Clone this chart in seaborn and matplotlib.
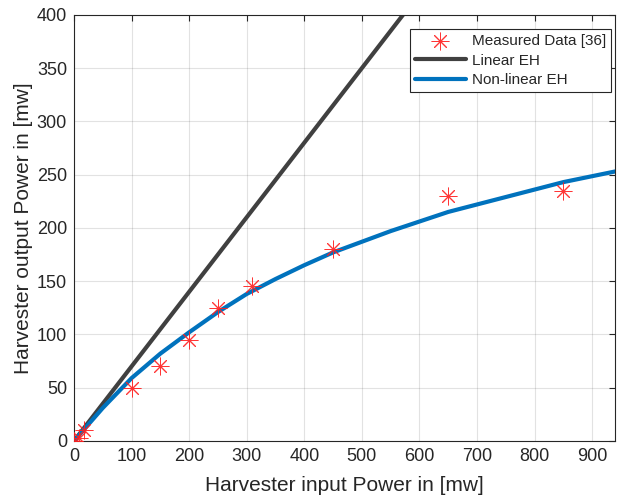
import matplotlib
matplotlib.use("Agg")
import matplotlib.pyplot as plt
import seaborn as sns
import pandas as pd

# Measured data [36]
meas_x = [0, 8, 18, 100, 150, 200, 250, 310, 450, 650, 850]
meas_y = [0, 3, 10, 50, 70, 95, 125, 145, 180, 230, 235]

# Linear EH
lin_x = [0, 940]
lin_y = [0, 658]

# Non-linear EH
nl_x = [0, 50, 100, 150, 200, 250, 300, 350, 400, 450, 550, 650, 850, 940]
nl_y = [0, 31, 59, 82, 102, 121, 138, 152, 165, 177, 197, 215, 243, 253]

x_ticks = [0, 100, 200, 300, 400, 500, 600, 700, 800, 900]
y_ticks = [0, 50, 100, 150, 200, 250, 300, 350, 400]

sns.set_style("white")
plt.rcParams['font.family'] = ['Liberation Sans', 'DejaVu Sans']

fig = plt.figure(figsize=(6.22, 4.96), dpi=100)
ax = fig.add_axes([0.119, 0.111, 0.870, 0.859])

df_m = pd.DataFrame({"x": meas_x, "y": meas_y})
df_l = pd.DataFrame({"x": lin_x, "y": lin_y})
df_n = pd.DataFrame({"x": nl_x, "y": nl_y})

sns.scatterplot(data=df_m, x="x", y="y", ax=ax, marker=(8, 2, 0), s=150,
                color="#ff2020", linewidth=0.7, edgecolor="#ff2020", alpha=0.9,
                label="Measured Data [36]", zorder=3)
sns.lineplot(data=df_l, x="x", y="y", ax=ax, color="#404040", linewidth=3,
             label="Linear EH", zorder=2)
sns.lineplot(data=df_n, x="x", y="y", ax=ax, color="#0072bd", linewidth=3,
             label="Non-linear EH", zorder=2)

ax.set_xlim(0, 940)
ax.set_ylim(0, 400)
ax.set_xticks(x_ticks)
ax.set_yticks(y_ticks)
ax.grid(True, color="#262626", alpha=0.13, linewidth=0.8)
ax.tick_params(direction="in", length=4, width=0.8, colors="#262626",
               labelsize=13, top=True, right=True, pad=5)
for s in ax.spines.values():
    s.set_color("#262626")
    s.set_linewidth(0.8)
ax.set_xlabel("Harvester input Power in [mw]", fontsize=15, color="#262626", labelpad=8)
ax.set_ylabel("Harvester output Power in [mw]", fontsize=15, color="#262626", labelpad=3)

leg = ax.legend(loc="upper right", bbox_to_anchor=(0.993, 0.967), fontsize=11,
                frameon=True, fancybox=False, framealpha=1, edgecolor="#262626",
                borderpad=0.35, labelspacing=0.35, handlelength=3.3, handletextpad=0.4,
                borderaxespad=0)
leg.get_frame().set_linewidth(0.8)

fig.savefig("out.png", dpi=100)
